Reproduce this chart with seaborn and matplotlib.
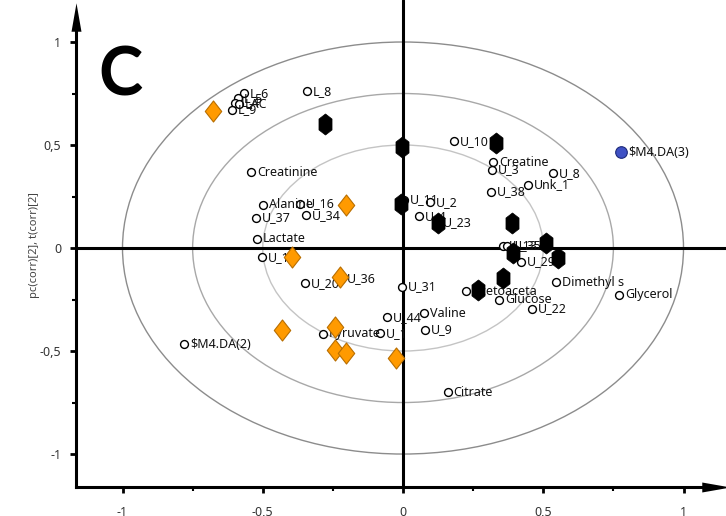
import numpy as np
import pandas as pd
import matplotlib
matplotlib.use("Agg")
import matplotlib.pyplot as plt
from matplotlib.markers import MarkerStyle
from matplotlib.path import Path
from matplotlib.patches import Circle
import seaborn as sns

# Variable loadings pc(corr) shown as open circles with names
var_names = ["L_6", "L_5", "L_4", "LAC", "L_9", "L_8", "Creatinine", "Alanine", "U_16",
             "U_37", "U_34", "Lactate", "U_12", "U_20", "U_36", "U_31", "U_44", "Valine",
             "U_1", "U_9", "Pyruvate", "$M4.DA(2)", "Citrate", "Acetoaceta", "Glucose",
             "U_22", "Dimethyl s", "Glycerol", "U_29", "U_13", "U_35", "U_10", "Creatine",
             "U_3", "U_8", "Unk_1", "U_38", "U_11", "U_2", "U_4", "U_23"]
var_x = [-0.567, -0.588, -0.599, -0.585, -0.610, -0.342, -0.542, -0.499, -0.367,
         -0.524, -0.346, -0.520, -0.503, -0.349, -0.221, -0.004, -0.057, 0.075,
         -0.082, 0.078, -0.285, -0.781, 0.160, 0.225, 0.342,
         0.460, 0.545, 0.770, 0.421, 0.357, 0.371, 0.182, 0.321,
         0.317, 0.535, 0.446, 0.314, 0.002, 0.096, 0.057, 0.121]
var_y = [0.752, 0.728, 0.704, 0.699, 0.670, 0.762, 0.369, 0.209, 0.214,
         0.146, 0.160, 0.044, -0.044, -0.170, -0.150, -0.189, -0.335, -0.316,
         -0.413, -0.398, -0.417, -0.466, -0.699, -0.209, -0.252,
         -0.296, -0.165, -0.228, -0.068, 0.010, 0.010, 0.519, 0.417,
         0.379, 0.364, 0.306, 0.272, 0.233, 0.223, 0.155, 0.126]

# Score t(corr) for the two sample groups
group_a_x = [-0.278, -0.004, 0.332, -0.007, 0.125, 0.389, 0.510, 0.392, 0.553, 0.357, 0.267]
group_a_y = [0.602, 0.490, 0.510, 0.214, 0.121, 0.121, 0.024, -0.024, -0.049, -0.146, -0.204]
group_b_x = [-0.677, -0.203, -0.396, -0.225, -0.431, -0.242, -0.242, -0.203, -0.025]
group_b_y = [0.665, 0.209, -0.044, -0.141, -0.398, -0.383, -0.495, -0.510, -0.534]

# Highlighted variable
hl_name = ["$M4.DA(3)"]
hl_x = [0.777]
hl_y = [0.466]

tick_vals = [-1, -0.5, 0, 0.5, 1]
tick_labels = ["-1", "-0,5", "0", "0,5", "1"]
minor_vals = [-0.75, -0.25, 0.25, 0.75]
radii = [0.5, 0.75, 1.0]
radius_colors = ["#c4c4c4", "#a8a8a8", "#8c8c8c"]

sns.set_theme(style="white")
plt.rcParams["font.family"] = ["Noto Sans", "DejaVu Sans"]

fig = plt.figure(figsize=(7.26, 5.16), dpi=100)
ax = fig.add_axes([76 / 726, 29 / 516, 650 / 726, 487 / 516])
ax.set_xlim(-1.1658, 1.1515)
ax.set_ylim(-1.160, 1.2039)

# Correlation circles
for r, c in zip(radii, radius_colors):
    ax.add_patch(Circle((0, 0), r, fill=False, edgecolor=c, lw=1.0, zorder=1))

ax.axhline(0, color="black", lw=2.2, zorder=2)
ax.axvline(0, color="black", lw=2.2, zorder=2)

df_var = pd.DataFrame({"x": var_x, "y": var_y, "name": var_names})
sns.scatterplot(data=df_var, x="x", y="y", ax=ax, marker="o", s=32,
                facecolor="white", edgecolor="black", linewidth=1.0, zorder=3)
for n, x, y in zip(var_names, var_x, var_y):
    ax.annotate(n, (x, y), xytext=(4.2, 0), textcoords="offset points",
                va="center", ha="left", fontsize=9, color="#111111", zorder=3)

hex_path = Path([(0, 1), (0.62, 0.52), (0.62, -0.52), (0, -1), (-0.62, -0.52),
                 (-0.62, 0.52), (0, 1)], closed=True)
dia_path = Path([(0, 1), (0.78, 0), (0, -1), (-0.78, 0), (0, 1)], closed=True)

df_a = pd.DataFrame({"x": group_a_x, "y": group_a_y})
sns.scatterplot(data=df_a, x="x", y="y", ax=ax, marker=MarkerStyle(hex_path), s=230,
                color="black", edgecolor="black", linewidth=0.5, zorder=5)
df_b = pd.DataFrame({"x": group_b_x, "y": group_b_y})
sns.scatterplot(data=df_b, x="x", y="y", ax=ax, marker=MarkerStyle(dia_path), s=230,
                color="#ff9a00", edgecolor="#b86e00", linewidth=0.8, zorder=5)

df_hl = pd.DataFrame({"x": hl_x, "y": hl_y})
sns.scatterplot(data=df_hl, x="x", y="y", ax=ax, marker="o", s=70,
                color="#3f51c4", edgecolor="#1d2a7a", linewidth=0.8, zorder=5)
for n, x, y in zip(hl_name, hl_x, hl_y):
    ax.annotate(n, (x, y), xytext=(5.5, 0), textcoords="offset points",
                va="center", ha="left", fontsize=9, color="#111111", zorder=5)

# Axes styling: spines with arrowheads
for s in ["top", "right"]:
    ax.spines[s].set_visible(False)
for s in ["left", "bottom"]:
    ax.spines[s].set_linewidth(2.2)
    ax.spines[s].set_color("black")
ax.spines["left"].set_bounds(-1.160, 1.10)
ax.spines["bottom"].set_bounds(-1.1658, 1.09)

arrow_up = MarkerStyle(Path([(-0.35, -1), (0, 1), (0.35, -1), (-0.35, -1)], closed=True))
arrow_right = MarkerStyle(Path([(-1, -0.35), (1, 0), (-1, 0.35), (-1, -0.35)], closed=True))
ax.scatter([-1.1658], [1.12], marker=arrow_up, s=420, color="black", linewidth=0,
           clip_on=False, zorder=6)
ax.scatter([1.115], [-1.160], marker=arrow_right, s=420, color="black", linewidth=0,
           clip_on=False, zorder=6)

ax.set_xticks(tick_vals)
ax.set_xticklabels(tick_labels)
ax.set_yticks(tick_vals)
ax.set_yticklabels(tick_labels)
ax.set_xticks(minor_vals, minor=True)
ax.set_yticks(minor_vals, minor=True)
ax.tick_params(axis="both", which="major", direction="out", length=4.5, width=2.0,
               color="black", labelsize=9, labelcolor="#333333", pad=6,
               bottom=True, left=True)
ax.tick_params(axis="x", which="major", pad=9.5)
ax.tick_params(axis="both", which="minor", direction="out", length=3, width=1.5,
               color="black", bottom=True, left=True)
ax.set_xlabel("")
ax.set_ylabel("")

fig.text(35 / 726, 1 - 245 / 516, "pc(corr)[2], t(corr)[2]", rotation=90,
         ha="center", va="center", fontsize=8, color="#444444")

ax.text(0.035, 0.842, "C", transform=ax.transAxes, fontsize=48, fontweight="bold",
        family=["Lato", "DejaVu Sans"], color="black", ha="left", va="center")

fig.savefig("out.png", dpi=100)
